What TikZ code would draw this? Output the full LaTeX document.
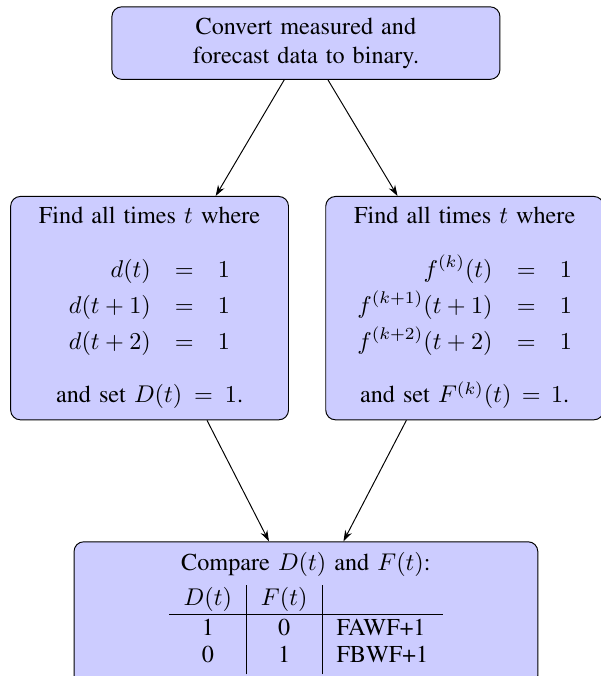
\documentclass[tikz,border=0pt]{standalone}
\usepackage[T1]{fontenc}
\usepackage{times}
\usepackage{tikz}
\usetikzlibrary{positioning,arrows.meta}

\begin{document}
\begin{tikzpicture}[
    box/.style={
        draw,
        rounded corners,
        fill=blue!20,
        inner ysep=4.5pt,
        align=center
    },
    >={Stealth[length=4.5pt,width=3pt]}
]
\useasboundingbox (-126.4pt,17.8pt) rectangle (121.9pt,-261.5pt);

\node[box, text width=5.4cm] (conv) {
    Convert measured and\\
    forecast data to binary.
};

\node[box, text width=3.8cm, below=48pt of conv, xshift=-64.6pt] (dfind) {
    Find all times $t$ where
    \begin{eqnarray*}
        d(t) &=& 1\\
        d(t+1) &=& 1\\
        d(t+2) &=& 1
    \end{eqnarray*}
    and set $D(t)=1$.
};

\node[box, text width=3.8cm, right=15pt of dfind] (ffind) {
    Find all times $t$ where
    \begin{eqnarray*}
        f^{(k)}(t) &=& 1\\
        f^{(k+1)}(t+1) &=& 1\\
        f^{(k+2)}(t+2) &=& 1
    \end{eqnarray*}
    and set $F^{(k)}(t)=1$.
};

\node[box, text width=6.5cm, anchor=north, yshift=-50pt] (cmp) at (conv |- dfind.south) {
    Compare $D(t)$ and $F(t)$:\\[2.5pt]
    \begin{tabular}{c|c|l}
        $D(t)$ & $F(t)$ & \\ \hline
        1 & 0 & FAWF+1\\[-1pt]
        0 & 1 & FBWF+1\rule[-5pt]{0pt}{5pt}
    \end{tabular}
};

\draw[->] (conv) -- (dfind);
\draw[->] (conv) -- (ffind);
\draw[->] (dfind) -- (cmp);
\draw[->] (ffind) -- (cmp);

\end{tikzpicture}
\end{document}
